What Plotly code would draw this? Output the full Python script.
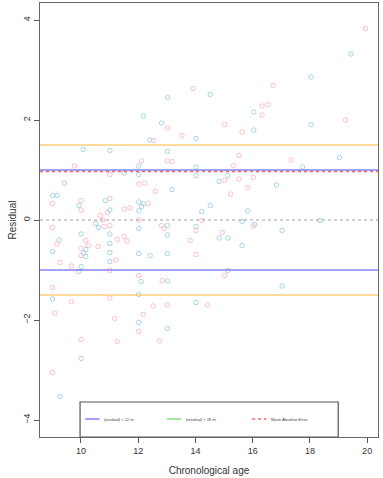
import plotly.graph_objects as go

# Pink-group points
pink_x = [12.53, 9.77, 12.12, 11.01, 12.02, 12.23, 12.60, 9.01, 10.01, 10.01, 11.01, 11.51, 11.71, 12.35,
          10.68, 10.93, 10.76, 12.02, 10.81, 11.01, 9.01, 9.16, 10.17, 10.26, 10.01, 10.01, 10.60, 11.27,
          11.51, 11.61, 9.27, 9.67, 11.22, 11.01, 12.02, 9.01, 9.67, 11.01, 12.52, 9.09, 11.18, 12.18,
          12.02, 10.01, 11.27, 12.74, 9.01, 16.72, 13.92, 16.33, 16.54, 16.33, 13.02, 15.02, 15.63, 13.53,
          13.02, 13.18, 15.52, 15.33, 15.02, 15.52, 16.02, 15.83, 15.23, 14.22, 12.82, 12.91, 16.02, 14.02,
          13.82, 14.94, 14.02, 12.84, 15.02, 13.02, 14.43, 19.94, 19.24, 17.34]
pink_y = [1.59, 1.08, 1.18, 0.91, 0.72, 0.74, 0.57, 0.33, 0.39, 0.20, 0.43, 0.22, 0.24, 0.33,
          0.09, 0.15, 0.00, 0.00, -0.13, -0.11, -0.15, -0.48, -0.41, -0.51, -0.57, -0.71, -0.53, -0.39,
          -0.33, -0.42, -0.85, -0.92, -0.80, -1.01, -1.11, -1.35, -1.63, -1.56, -1.72, -1.86, -1.97, -1.89,
          -2.23, -2.39, -2.43, -2.42, -3.05, 2.69, 2.63, 2.28, 2.31, 2.10, 1.84, 1.91, 1.76, 1.69,
          1.18, 1.17, 1.29, 1.09, 0.79, 0.82, 0.85, 0.65, 0.52, -0.01, -0.11, -0.17, -0.12, -0.21,
          -0.41, -0.25, -0.69, -1.21, -1.11, -1.70, -1.70, 3.83, 2.00, 1.20]

# Blue-group points
blue_x = [12.18, 12.41, 10.08, 11.01, 12.02, 11.51, 12.02, 9.42, 9.01, 9.17, 9.93, 10.85, 11.01, 12.02,
          12.18, 12.12, 12.02, 10.51, 10.61, 12.02, 10.01, 11.01, 9.24, 10.17, 10.09, 10.17, 11.01, 11.01,
          9.01, 12.02, 12.42, 10.01, 9.93, 11.01, 12.10, 9.01, 12.02, 12.02, 10.01, 9.27, 14.52, 13.03,
          16.04, 12.82, 16.04, 14.02, 13.02, 14.02, 14.02, 15.13, 14.83, 13.18, 14.52, 14.22, 15.83, 13.02,
          14.02, 15.63, 16.07, 13.02, 14.83, 15.13, 15.63, 13.02, 13.03, 15.13, 14.02, 13.02, 19.44, 18.04,
          18.04, 19.03, 17.74, 16.83, 18.35, 17.03, 17.03]
blue_y = [2.08, 1.60, 1.41, 1.39, 1.08, 0.94, 0.91, 0.74, 0.49, 0.49, 0.29, 0.39, 0.20, 0.36,
          0.33, 0.27, 0.18, -0.07, -0.15, -0.17, -0.28, -0.28, -0.40, -0.59, -0.66, -0.73, -0.47, -0.65,
          -0.63, -0.67, -0.71, -0.93, -1.03, -0.83, -1.23, -1.58, -1.49, -2.05, -2.77, -3.53, 2.51, 2.45,
          2.16, 1.94, 1.80, 1.63, 1.37, 1.06, 0.89, 0.89, 0.77, 0.61, 0.29, 0.17, 0.18, -0.11,
          -0.13, -0.03, -0.09, -0.30, -0.36, -0.36, -0.51, -0.67, -1.22, -1.01, -1.65, -2.17, 3.32, 2.86,
          1.91, 1.25, 1.06, 0.70, -0.01, -0.21, -1.32]

limit_12 = 1.0
limit_18 = 1.5
mae = 0.97
legend_labels = ["|residual| < 12 m.", "|residual| < 18 m.", "Mean Absolute Error"]

x_ticks = [10, 12, 14, 16, 18, 20]
y_ticks = [-4, -2, 0, 2, 4]

fig = go.Figure()
fig.add_trace(go.Scatter(x=pink_x, y=pink_y, mode="markers",
                         marker=dict(symbol="circle-open", size=4.5, color="#FFB6C4", line=dict(width=0.9)),
                         showlegend=False, hoverinfo="skip"))
fig.add_trace(go.Scatter(x=blue_x, y=blue_y, mode="markers",
                         marker=dict(symbol="circle-open", size=4.5, color="#9CCFE6", line=dict(width=0.9)),
                         showlegend=False, hoverinfo="skip"))

shapes = []
def hline(y, color, dash="solid", width=1.0):
    shapes.append(dict(type="line", xref="paper", x0=0, x1=1, yref="y", y0=y, y1=y,
                       line=dict(color=color, width=width, dash=dash), layer="above"))

hline(0, "#A0A0A0", "dot", 1.2)
hline(mae, "#FF6060", "dot", 1.3)
hline(limit_12, "#4848FF", "solid", 1.0)
hline(-limit_12, "#4848FF", "solid", 1.0)
hline(limit_18, "#FFB838", "solid", 1.0)
hline(-limit_18, "#FFB838", "solid", 1.0)

# legend box
shapes.append(dict(type="rect", xref="x", yref="y", x0=9.97, x1=18.99, y0=-3.64, y1=-4.34,
                   line=dict(color="#555555", width=1.2), fillcolor="white", layer="above"))

leg_items = [(10.15, "#8080FF", "solid"), (13.0, "#88DD88", "solid"), (15.98, "#FF6666", "dot")]
annotations = []
for (lx, col, dash), lab in zip(leg_items, legend_labels):
    shapes.append(dict(type="line", xref="x", yref="y", x0=lx, x1=lx + 0.5, y0=-3.98, y1=-3.98,
                       line=dict(color=col, width=1.5, dash=dash), layer="above"))
    annotations.append(dict(x=lx + 0.6, y=-3.98, xref="x", yref="y", text=lab, showarrow=False,
                            xanchor="left", yanchor="middle",
                            font=dict(size=4, color="#444444", family="Liberation Sans, Arial")))

fig.update_layout(
    width=383, height=478,
    margin=dict(l=40, r=5, t=3, b=41),
    paper_bgcolor="white", plot_bgcolor="white",
    shapes=shapes, annotations=annotations,
    font=dict(family="Liberation Sans, Arial", color="#333333"),
    xaxis=dict(range=[8.57, 20.38], tickvals=x_ticks, ticks="outside", ticklen=5, tickcolor="#555555",
               showgrid=False, zeroline=False, showline=True, linecolor="#666666", linewidth=1.2,
               mirror=True, tickfont=dict(size=9), automargin=False,
               title=dict(text="Chronological age", font=dict(size=10), standoff=12)),
    yaxis=dict(range=[-4.34, 4.34], tickvals=y_ticks, ticks="outside", ticklen=5, tickcolor="#555555",
               showgrid=False, zeroline=False, showline=True, linecolor="#666666", linewidth=1.2,
               mirror=True, tickangle=-90, tickfont=dict(size=9), automargin=False,
               title=dict(text="Residual", font=dict(size=10), standoff=3)),
)

fig.write_html("out.html", config={"displayModeBar": False},
               post_script="document.body.style.margin='0';document.body.style.overflow='hidden';")
